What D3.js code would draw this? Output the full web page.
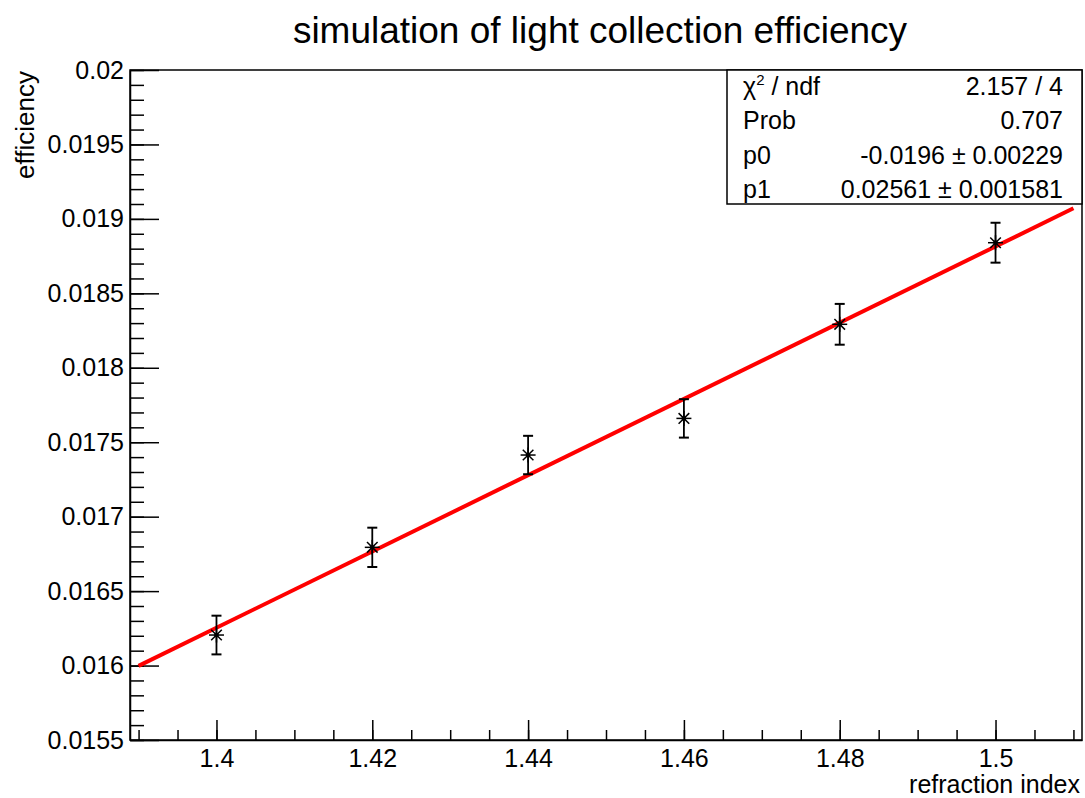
<!DOCTYPE html>
<html>
<head>
<meta charset="utf-8">
<script src="https://cdn.jsdelivr.net/npm/d3@7"></script>
<style>
  html, body { margin: 0; padding: 0; background: #fff; }
  svg { display: block; font-family: "Liberation Sans", Arial, Helvetica, sans-serif; }
</style>
</head>
<body>
<svg id="chart" width="1085" height="798"></svg>
<script>
// ---- data ----
const refractionIndex = [1.40, 1.42, 1.44, 1.46, 1.48, 1.50];
const efficiency      = [0.016205, 0.016794, 0.017414, 0.017660, 0.018292, 0.018840];
const efficiencyErr   = [0.000130, 0.000132, 0.000129, 0.000129, 0.000137, 0.000134];
const fitP0 = -0.0196;
const fitP1 = 0.02561;
const fitRange = [1.39, 1.51];
const xMajorTicks = [1.40, 1.42, 1.44, 1.46, 1.48, 1.50];
const yMajorTicks = [0.0155, 0.016, 0.0165, 0.017, 0.0175, 0.018, 0.0185, 0.019, 0.0195, 0.02];
const statsLabels = ["χ2 / ndf", "Prob", "p0", "p1"];
const statsValues = ["2.157 / 4", "0.707", "-0.0196 ± 0.00229", "0.02561 ± 0.001581"];
const titleText = "simulation of light collection efficiency";
const xTitle = "refraction index";
const yTitle = "efficiency";

// ---- layout ----
const L = 130, R = 1082, T = 70, B = 740;
const svg = d3.select("#chart");

const x = d3.scaleLinear().domain([1.3889, 1.5111]).range([L, R]);
const y = d3.scaleLinear().domain([0.0155, 0.02]).range([B, T]);

// minor ticks
const xMinor = d3.range(0, 25).map(i => +(1.39 + i * 0.005).toFixed(4)).filter(v => v >= x.domain()[0] && v <= x.domain()[1]);
const yMinor = d3.range(0, 46).map(i => +(0.0155 + i * 0.0001).toFixed(5));

// frame
svg.append("rect").attr("x", L).attr("y", T).attr("width", R - L).attr("height", B - T)
  .attr("fill", "none").attr("stroke", "#000").attr("stroke-width", 1.5);

// x axis (ticks pointing inward)
const xAxis = d3.axisBottom(x).tickValues(xMajorTicks).tickSize(-20).tickSizeOuter(0)
  .tickFormat(d => String(+d.toFixed(3)));
const gx = svg.append("g").attr("transform", `translate(0,${B})`).call(xAxis);
gx.select(".domain").attr("stroke-width", 1.5);
gx.selectAll(".tick line").attr("stroke-width", 1.5);
gx.selectAll(".tick text").attr("font-size", 25).attr("fill", "#000").attr("y", 9).attr("dy", "0.71em")
  .attr("font-family", "Liberation Sans, Arial, sans-serif");
const xAxisMinor = d3.axisBottom(x).tickValues(xMinor).tickSize(-10).tickFormat("").tickSizeOuter(0);
const gxm = svg.append("g").attr("transform", `translate(0,${B})`).call(xAxisMinor);
gxm.select(".domain").remove();
gxm.selectAll(".tick line").attr("stroke-width", 1.5);

// y axis
const yAxis = d3.axisLeft(y).tickValues(yMajorTicks).tickSize(-29).tickSizeOuter(0)
  .tickFormat(d => String(+d.toFixed(4)));
const gy = svg.append("g").attr("transform", `translate(${L},0)`).call(yAxis);
gy.select(".domain").attr("stroke-width", 1.5);
gy.selectAll(".tick line").attr("stroke-width", 1.5);
gy.selectAll(".tick text").attr("font-size", 25).attr("fill", "#000").attr("x", -6)
  .attr("font-family", "Liberation Sans, Arial, sans-serif");
const yAxisMinor = d3.axisLeft(y).tickValues(yMinor).tickSize(-14).tickFormat("").tickSizeOuter(0);
const gym = svg.append("g").attr("transform", `translate(${L},0)`).call(yAxisMinor);
gym.select(".domain").remove();
gym.selectAll(".tick line").attr("stroke-width", 1.5);

// fit line
const line = d3.line().x(d => x(d)).y(d => y(fitP0 + fitP1 * d));
svg.append("path").datum(fitRange).attr("d", line)
  .attr("stroke", "#ff0000").attr("stroke-width", 4).attr("fill", "none");

// points with error bars
const pts = refractionIndex.map((v, i) => ({ x: v, y: efficiency[i], e: efficiencyErr[i] }));
const pg = svg.append("g").selectAll("g").data(pts).join("g");
pg.append("line").attr("x1", d => x(d.x)).attr("x2", d => x(d.x))
  .attr("y1", d => y(d.y + d.e)).attr("y2", d => y(d.y - d.e))
  .attr("stroke", "#000").attr("stroke-width", 1.8);
[1, -1].forEach(s => {
  pg.append("line").attr("x1", d => x(d.x) - 5).attr("x2", d => x(d.x) + 5)
    .attr("y1", d => y(d.y + s * d.e)).attr("y2", d => y(d.y + s * d.e))
    .attr("stroke", "#000").attr("stroke-width", 2);
});
[0, 45, 90, 135].forEach(a => {
  const r = 7.5, rad = a * Math.PI / 180;
  pg.append("line")
    .attr("x1", d => x(d.x) - r * Math.cos(rad)).attr("x2", d => x(d.x) + r * Math.cos(rad))
    .attr("y1", d => y(d.y) - r * Math.sin(rad)).attr("y2", d => y(d.y) + r * Math.sin(rad))
    .attr("stroke", "#000").attr("stroke-width", 1.5);
});
pg.append("circle").attr("cx", d => x(d.x)).attr("cy", d => y(d.y)).attr("r", 2.4).attr("fill", "#000");

// title
svg.append("text").attr("x", 600).attr("y", 43).attr("text-anchor", "middle")
  .attr("font-size", 37).attr("fill", "#000").text(titleText);

// axis titles
svg.append("text").attr("x", 1080).attr("y", 793).attr("text-anchor", "end")
  .attr("font-size", 25).attr("fill", "#000").text(xTitle);
svg.append("text").attr("transform", "translate(34,71) rotate(-90)").attr("text-anchor", "end")
  .attr("font-size", 26).attr("fill", "#000").text(yTitle);

// stats box
const bx = 727, by = 70, bw = 1082 - 727, bh = 134;
svg.append("rect").attr("x", bx).attr("y", by).attr("width", bw).attr("height", bh)
  .attr("fill", "#fff").attr("stroke", "#000").attr("stroke-width", 1.5);
const rowH = 34.3;
statsLabels.forEach((lab, i) => {
  const ty = by + 25 + rowH * i;
  const t = svg.append("text").attr("x", bx + 16).attr("y", ty).attr("font-size", 25).attr("fill", "#000");
  if (lab.startsWith("χ2")) {
    t.append("tspan").text("χ");
    t.append("tspan").attr("font-size", 15).attr("dy", -10).text("2");
    t.append("tspan").attr("dy", 10).text(" / ndf");
  } else {
    t.text(lab);
  }
  svg.append("text").attr("x", bx + bw - 19).attr("y", ty).attr("text-anchor", "end")
    .attr("font-size", 25).attr("fill", "#000").text(statsValues[i]);
});
</script>
</body>
</html>
